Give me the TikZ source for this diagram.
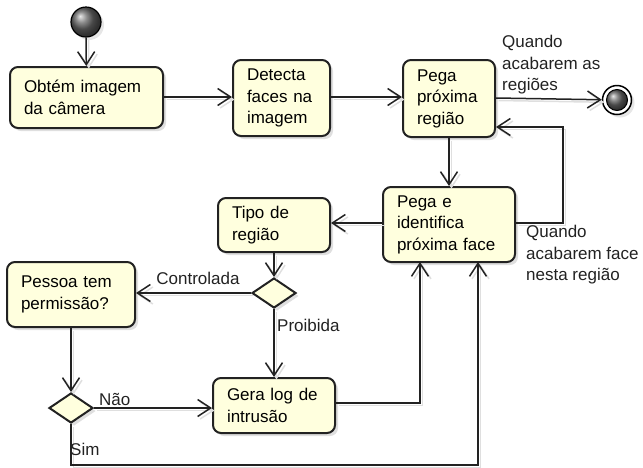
\documentclass[tikz,border=0pt]{standalone}
\usepackage{fontspec}
\setmainfont{Liberation Sans}
\usetikzlibrary{arrows.meta,shapes.geometric,shadows}
\definecolor{boxfill}{RGB}{255,255,222}
\definecolor{linec}{RGB}{34,34,34}
\tikzset{
  actbox/.style={draw=linec, line width=2pt, rounded corners=8pt, fill=boxfill,
    drop shadow={shadow xshift=3pt, shadow yshift=-3pt, opacity=0.25, fill=gray},
    align=left, inner xsep=14pt, inner ysep=0pt, font=\fontsize{17}{21.5}\selectfont},
  decis/.style={draw=linec, line width=2pt, shape=diamond, fill=boxfill, inner sep=0pt,
    minimum width=44pt, minimum height=30pt, aspect=1.47,
    drop shadow={shadow xshift=3pt, shadow yshift=-3pt, opacity=0.25, fill=gray}},
  flow/.style={draw=linec, line width=1.5pt, -{Straight Barb[length=13pt,width=17pt,line width=1.5pt]},
    preaction={draw=gray!25, line width=1.5pt, transform canvas={shift={(2.5pt,-2.5pt)}}}},
  lbl/.style={font=\fontsize{17}{21.5}\selectfont, align=left, inner sep=0pt, text=linec}
}
\begin{document}
\begin{tikzpicture}[x=1pt,y=-1pt]
\useasboundingbox (0,0) rectangle (643,467);
% start
\node[circle, minimum size=30pt, inner sep=0pt, draw=black, line width=1.2pt, shading=ball, ball color=gray!80!black,
  drop shadow={shadow xshift=3pt, shadow yshift=-3pt, opacity=0.2, fill=gray}] (start) at (86,22) {};
% end
\node[circle, minimum size=29pt, inner sep=0pt, draw=black, line width=1.5pt, fill=white,
  drop shadow={shadow xshift=3pt, shadow yshift=-3pt, opacity=0.2, fill=gray}] (stop) at (617,100) {};
\node[circle, minimum size=21pt, inner sep=0pt, draw=black, line width=1pt, shading=ball, ball color=gray!80!black] (stopin) at (617,100) {};
% boxes
\node[actbox, minimum width=153pt, minimum height=61pt, text width=125pt] (b1) at (86.5,97.5) {Obtém imagem\\da câmera};
\node[actbox, minimum width=97pt, minimum height=76pt, text width=69pt] (b2) at (281.5,98) {Detecta\\faces na\\imagem};
\node[actbox, minimum width=92pt, minimum height=77pt, text width=64pt] (b3) at (449,98.5) {Pega\\próxima\\região};
\node[actbox, minimum width=132pt, minimum height=75pt, text width=104pt] (b5) at (449,224.5) {Pega e\\identifica\\próxima face};
\node[actbox, minimum width=112pt, minimum height=54pt, text width=84pt] (tipo) at (274,225) {Tipo de\\região};
\node[actbox, minimum width=128pt, minimum height=65pt, text width=100pt] (pessoa) at (71,294.5) {Pessoa tem\\permissão?};
\node[actbox, minimum width=122pt, minimum height=55pt, text width=94pt] (gera) at (274,405.5) {Gera log de\\intrusão};
% decisions
\node[decis] (d1) at (274,293) {};
\node[decis] (d2) at (71,408) {};
% corner coordinates
\coordinate (c1) at (563,223);
\coordinate (c2) at (563,127);
\coordinate (c3) at (420,403);
\coordinate (c4) at (420,262);
\coordinate (c5) at (71,465);
\coordinate (c6) at (478,465);
\coordinate (c7) at (478,262);
% flows
\draw[flow] (start) -- (b1);
\draw[flow] (b1.east |- 0,97) -- (b2.west |- 0,97);
\draw[flow] (b2.east |- 0,97) -- (b3.west |- 0,97);
\draw[flow] (b3.east |- 0,98) -- (stop);
\draw[flow] (b3) -- (b5);
\draw[flow] (b5.east |- c1) -- (c1) -- (c2) -- (b3.east |- c2);
\draw[flow] (b5.west |- 0,223) -- (tipo.east |- 0,223);
\draw[flow] (tipo) -- (d1);
\draw[flow] (d1) -- (pessoa.east |- d1);
\draw[flow] (d1) -- (gera);
\draw[flow] (pessoa) -- (d2);
\draw[flow] (d2) -- (gera.west |- d2);
\draw[flow] (gera.east |- c3) -- (c3) -- (c4);
\draw[flow] (d2) -- (c5) -- (c6) -- (c7);
% labels
\node[lbl, anchor=west] (l1) at (502,65) {Quando\\acabarem as\\regiões};
\node[lbl, anchor=west] (l2) at (526,255) {Quando\\acabarem face\\nesta região};
\node[lbl] (l3) at (198,278) {Controlada};
\node[lbl, anchor=west] (l4) at (277,325) {Proibida};
\node[lbl, anchor=west] (l5) at (99,399) {Não};
\node[lbl, anchor=west] (l6) at (70,449) {Sim};
\end{tikzpicture}
\end{document}
